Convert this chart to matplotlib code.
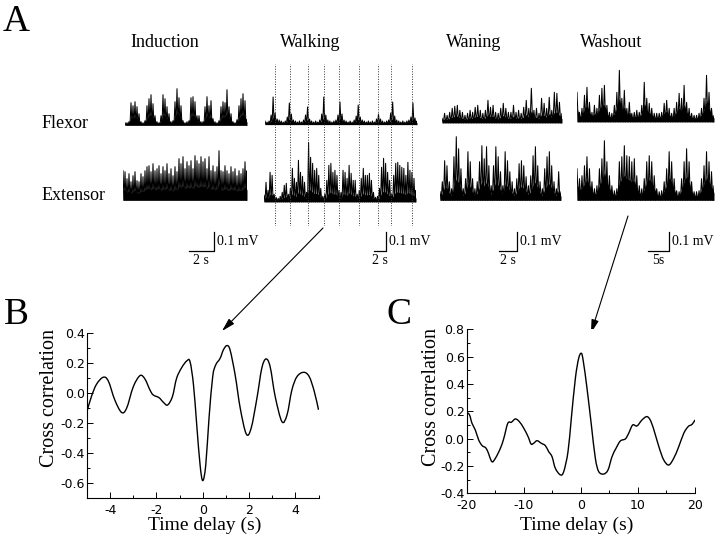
import numpy as np
import matplotlib
matplotlib.use("Agg")
import matplotlib.pyplot as plt
from matplotlib.path import Path
from matplotlib.patches import PathPatch

# ------------------------------------------------------------------ data
TITLES = ["Induction", "Walking", "Waning", "Washout"]
ROW_LABELS = ["Flexor", "Extensor"]

# EMG spike heights (pixels above the trace baseline)
IND_FLEX = [1, 1, 2, 21, 18, 22, 17, 10, 2, 1, 3, 18, 25, 29, 20, 8, 2, 1, 8, 29,
            25, 17, 10, 2, 3, 22, 35, 26, 18, 3, 1, 2, 3, 26, 27, 22, 8, 8, 2, 2,
            17, 27, 18, 23, 5, 2, 1, 3, 17, 22, 21, 34, 17, 10, 2, 1, 4, 18, 25, 30,
            23, 4]
IND_EXT = [28, 27, 20, 25, 17, 23, 27, 18, 17, 25, 22, 28, 32, 33, 27, 35, 28, 30, 33, 25,
           32, 28, 35, 25, 30, 23, 32, 27, 40, 35, 42, 30, 37, 33, 38, 30, 43, 38, 35, 42,
           37, 40, 30, 42, 28, 33, 27, 32, 48, 28, 27, 33, 28, 25, 32, 27, 30, 23, 28, 25,
           30, 37, 28]
WALK_FLEX = [2, 1, 2, 8, 26, 10, 4, 3, 2, 1, 2, 6, 20, 9, 3, 2, 1, 2, 1, 3,
             8, 16, 4, 2, 1, 2, 1, 3, 9, 26, 8, 3, 2, 1, 2, 3, 8, 21, 9, 3,
             2, 1, 2, 1, 3, 7, 18, 6, 3, 2, 1, 2, 1, 2, 1, 4, 9, 4, 2, 1,
             2, 3, 10, 21, 7, 3, 2, 1, 2, 1, 2, 3, 6, 20, 5, 2]
WALK_EXT = [5, 18, 10, 28, 25, 6, 3, 2, 4, 8, 15, 17, 6, 12, 32, 22, 18, 40, 28, 24,
            18, 8, 58, 43, 37, 30, 32, 25, 12, 4, 6, 20, 35, 37, 28, 30, 25, 10, 8, 30,
            28, 22, 35, 27, 20, 20, 6, 10, 22, 32, 25, 25, 27, 20, 8, 3, 4, 12, 33, 42,
            37, 28, 20, 6, 25, 37, 38, 35, 33, 32, 25, 38, 30, 28, 22, 10]
WANE_FLEX = [3, 8, 6, 9, 13, 15, 16, 11, 9, 6, 8, 11, 9, 14, 16, 11, 8, 11, 21, 14,
             16, 9, 8, 13, 18, 13, 9, 9, 16, 9, 11, 8, 14, 21, 13, 33, 11, 13, 8, 23,
             18, 13, 24, 11, 29, 28, 19, 8]
WANE_EXT = [7, 17, 38, 33, 17, 10, 42, 62, 50, 30, 10, 20, 47, 37, 20, 10, 17, 37, 53, 40,
            52, 33, 13, 33, 52, 42, 27, 13, 47, 38, 27, 17, 10, 20, 35, 38, 33, 22, 13, 23,
            43, 52, 33, 17, 10, 30, 42, 47, 33, 17, 10, 27, 7]
WASH_FLEX = [28, 8, 12, 25, 33, 18, 8, 15, 12, 25, 32, 35, 15, 8, 7, 15, 28, 50, 22, 30,
             12, 18, 7, 8, 10, 8, 15, 38, 22, 17, 12, 7, 7, 7, 8, 17, 20, 12, 7, 12,
             18, 27, 22, 35, 18, 12, 7, 5, 5, 7, 12, 22, 45, 28, 12, 5]
WASH_EXT = [30, 20, 23, 33, 42, 30, 17, 10, 13, 30, 40, 58, 37, 23, 13, 8, 10, 37, 42, 53,
            43, 42, 37, 40, 23, 13, 10, 20, 37, 43, 37, 23, 10, 7, 8, 17, 30, 47, 37, 20,
            8, 7, 20, 37, 50, 37, 17, 7, 7, 8, 20, 33, 47, 37, 27, 13]

FLEX_TRACES = [IND_FLEX, WALK_FLEX, WANE_FLEX, WASH_FLEX]
EXT_TRACES = [IND_EXT, WALK_EXT, WANE_EXT, WASH_EXT]

SCALE_SEC = [2, 2, 2, 5]
SCALE_SEC_LABELS = ["2 s", "2 s", "2 s", "5s"]
SCALE_MV = 0.1
SCALE_MV_LABEL = "0.1 mV"

# times of flexor bursts in the walking record (dotted lines), seconds
WALK_DOT_TIMES = [1.6, 4.2, 7.2, 9.8, 12.4, 15.6, 18.8, 21.0, 24.5]

# Panel B: walking cross correlation
B_T = [-5.0, -4.81, -4.59, -4.30, -4.08, -3.80, -3.51, -3.29, -3.0, -2.71,
       -2.50, -2.28, -2.14, -1.89, -1.70, -1.52, -1.31, -1.13, -0.91, -0.69,
       -0.55, -0.40, -0.26, -0.115, 0.0, 0.13, 0.27, 0.43, 0.56, 0.75,
       0.89, 1.04, 1.18, 1.40, 1.62, 1.88, 2.09, 2.34, 2.55, 2.73,
       2.91, 3.13, 3.42, 3.64, 3.85, 4.07, 4.36, 4.60, 4.82, 5.0]
B_Y = [-0.12, -0.022, 0.06, 0.107, 0.082, -0.044, -0.127, -0.10, 0.044, 0.118,
       0.096, 0.022, -0.011, -0.029, -0.06, -0.078, -0.022, 0.10, 0.171, 0.216,
       0.211, 0.056, -0.211, -0.478, -0.582, -0.478, -0.167, 0.111, 0.189, 0.233,
       0.289, 0.318, 0.289, 0.122, -0.10, -0.271, -0.233, -0.033, 0.167, 0.229,
       0.178, -0.022, -0.189, -0.144, 0.022, 0.111, 0.14, 0.111, 0.011, -0.11]

# Panel C: washout cross correlation
C_T = [-20.0, -19.5, -19.07, -18.49, -17.9, -17.3, -16.7, -16.3, -15.6, -14.98,
       -14.1, -13.5, -12.8, -12.17, -11.47, -10.77, -10.0, -9.25, -8.73, -8.27,
       -7.68, -6.93, -6.22, -5.64, -5.05, -4.47, -3.59, -3.0, -2.25, -1.67,
       -0.96, -0.38, 0.1, 0.44, 1.08, 1.84, 2.54, 3.13, 4.0, 4.76,
       5.46, 6.16, 6.92, 7.8, 8.38, 9.08, 9.84, 10.72, 11.6, 12.3,
       13.06, 13.76, 14.52, 15.4, 16.27, 17.15, 18.03, 18.8, 19.5, 20.0]
C_Y = [0.193, 0.173, 0.112, 0.063, -0.01, -0.051, -0.066, -0.095, -0.168, -0.144,
       -0.071, 0.002, 0.112, 0.12, 0.144, 0.124, 0.076, 0.015, -0.039, -0.034,
       -0.015, -0.034, -0.051, -0.095, -0.132, -0.217, -0.265, -0.241, -0.095, 0.149,
       0.441, 0.588, 0.624, 0.563, 0.368, 0.10, -0.144, -0.241, -0.259, -0.229,
       -0.132, -0.071, -0.017, -0.002, 0.039, 0.10, 0.093, 0.137, 0.161, 0.124,
       0.027, -0.071, -0.156, -0.193, -0.144, -0.059, 0.039, 0.088, 0.105, 0.137]

# ------------------------------------------------------------------ layout (pixels)
W, H, DPI = 720, 536, 100
MV_PER_PX = SCALE_MV / 19.5
FLEX_BOX = [(125, 247, 123.7), (265, 417, 123.0), (442, 562, 121.3), (577, 714, 120.3)]
EXT_BOX = [(123, 247, 198.7), (264, 416, 200.3), (440, 561, 198.7), (577, 714, 198.7)]
BAR_LEFT = [188.6, 374.0, 498.6, 647.5]
BAR_LEN_PX = [25.0, 12.0, 18.4, 21.5]
BAR_Y = 251.0
FLOOR = [0.32, 0.22, 0.32, 0.45]

plt.rcParams["axes.unicode_minus"] = False
SERIF = "Liberation Serif"
SANS = "DejaVu Sans"

fig = plt.figure(figsize=(W / DPI, H / DPI), dpi=DPI)


def px_axes(x0, y0, x1, y1, **kw):
    return fig.add_axes([x0 / W, 1 - y1 / H, (x1 - x0) / W, (y1 - y0) / H], **kw)


def ftext(x, y, s, **kw):
    fig.text(x / W, 1 - y / H, s, **kw)


def draw_trace(heights_px, box, sec_per_px, floor):
    x0, x1, base = box
    ax = px_axes(x0, base - 80, x1, base + 10)
    ax.axis("off")
    ax.patch.set_alpha(0)
    dur = (x1 - x0) * sec_per_px
    h = np.asarray(heights_px, float) * MV_PER_PX
    n = len(h)
    t = np.linspace(0, dur, n)
    dt = t[1] - t[0]
    lo = -1.6 * MV_PER_PX
    xs = np.empty(2 * n)
    ys = np.empty(2 * n)
    xs[0::2] = t
    xs[1::2] = np.minimum(t + dt / 2, dur)
    ys[0::2] = h
    ys[1::2] = lo
    ax.fill_between(t, lo, h * floor, color="black", lw=0)
    ax.plot(xs, ys, color="black", lw=0.75)
    ax.set_xlim(0, dur)
    ax.set_ylim(-10 * MV_PER_PX, 80 * MV_PER_PX)
    return ax, dur


walk_dur = None
for i in range(4):
    spp = SCALE_SEC[i] / BAR_LEN_PX[i]
    draw_trace(FLEX_TRACES[i], FLEX_BOX[i], spp, FLOOR[i])
    axe, dur = draw_trace(EXT_TRACES[i], EXT_BOX[i], spp, FLOOR[i])
    x0, x1, base = EXT_BOX[i]
    bx0 = (BAR_LEFT[i] - x0) * spp
    by = -(BAR_Y - base) * MV_PER_PX
    axe.plot([bx0, bx0 + SCALE_SEC[i], bx0 + SCALE_SEC[i]],
             [by, by, by + SCALE_MV], color="black", lw=0.9, clip_on=False)
    axe.annotate(SCALE_MV_LABEL, xy=(bx0 + SCALE_SEC[i], by + SCALE_MV / 2),
                 xytext=(2.5, 0), textcoords="offset points", ha="left", va="center",
                 fontsize=10, family=SERIF, annotation_clip=False)
    axe.annotate(SCALE_SEC_LABELS[i], xy=(bx0 + SCALE_SEC[i] / 2, by),
                 xytext=(0, -2.5), textcoords="offset points", ha="center", va="top",
                 fontsize=10, family=SERIF, annotation_clip=False)
    if i == 1:
        walk_dur = dur

# dotted lines across the walking record
axd = px_axes(FLEX_BOX[1][0], 64, FLEX_BOX[1][1], 226)
axd.axis("off")
axd.patch.set_alpha(0)
axd.set_xlim(0, walk_dur)
axd.set_ylim(0, 1)
axd.vlines(WALK_DOT_TIMES, 0, 1, colors="#333333", linestyles=(0, (1, 1.6)), lw=0.7)

# texts of panel A
ftext(3, 22, "A", fontsize=27, family=SERIF, va="center", ha="left")
for title, xc in zip(TITLES, [165, 310, 474, 611]):
    ftext(xc, 42, title, fontsize=13, family=SERIF, ha="center", va="center")
ftext(42, 124, ROW_LABELS[0], fontsize=13, family=SERIF, ha="left", va="center")
ftext(42, 195, ROW_LABELS[1], fontsize=13, family=SERIF, ha="left", va="center")
ftext(4, 315, "B", fontsize=27, family=SERIF, ha="left", va="center")
ftext(386, 315, "C", fontsize=27, family=SERIF, ha="left", va="center")

# arrows
axo = fig.add_axes([0, 0, 1, 1])
axo.axis("off")
axo.patch.set_alpha(0)
axo.set_xlim(0, W)
axo.set_ylim(H, 0)
for (xs_, ys_), (xe, ye) in [((323, 228), (222, 331)), ((628, 216), (591, 333))]:
    axo.annotate("", xy=(xe, ye), xytext=(xs_, ys_),
                 arrowprops=dict(arrowstyle="-|>,head_length=0.8,head_width=0.22",
                                 color="black", lw=0.8, shrinkA=0, shrinkB=0))


def smooth_path(xv, yv):
    """Cubic Bezier path passing through every read point."""
    p = np.column_stack([xv, yv]).astype(float)
    verts = [p[0]]
    codes = [Path.MOVETO]
    n = len(p)
    for k in range(n - 1):
        pm = p[k - 1] if k > 0 else p[k]
        pp = p[k + 2] if k + 2 < n else p[k + 1]
        c1 = p[k] + (p[k + 1] - pm) / 6.0
        c2 = p[k + 1] - (pp - p[k]) / 6.0
        verts += [c1, c2, p[k + 1]]
        codes += [Path.CURVE4] * 3
    return Path(verts, codes)


def style_corr(ax):
    for s in ("top", "right"):
        ax.spines[s].set_visible(False)
    for s in ("left", "bottom"):
        ax.spines[s].set_linewidth(0.8)
    ax.tick_params(which="both", direction="in", labelsize=9, width=0.7)
    ax.tick_params(which="major", length=4)
    ax.tick_params(axis="y", which="major", pad=1.5)
    ax.tick_params(axis="x", which="major", pad=4)
    ax.tick_params(which="minor", length=2.5)
    for lab in ax.get_xticklabels() + ax.get_yticklabels():
        lab.set_family(SANS)


# Panel B
axb = px_axes(87, 333.3, 318.5, 498.3)
axb.add_patch(PathPatch(smooth_path(B_T, B_Y), fill=False, color="black", lw=1.0))
axb.set_xlim(-5, 5)
axb.set_ylim(-0.7, 0.4)
axb.set_xticks([-4, -2, 0, 2, 4])
axb.set_xticks([-5, -3, -1, 1, 3, 5], minor=True)
axb.set_yticks([-0.6, -0.4, -0.2, 0.0, 0.2, 0.4])
axb.set_yticks([-0.7, -0.5, -0.3, -0.1, 0.1, 0.3], minor=True)
axb.set_yticklabels(["-0.6", "-0.4", "-0.2", "0.0", "0.2", "0.4"])
axb.set_xticklabels(["-4", "-2", "0", "2", "4"])
style_corr(axb)
ftext(50, 398, "Cross correlation", rotation=90, fontsize=14.5, family=SERIF,
      ha="center", va="center")
ftext(205, 525, "Time delay (s)", fontsize=14, family=SERIF, ha="center", va="center")

# Panel C
axc = px_axes(466.7, 329.3, 695, 493.3)
axc.add_patch(PathPatch(smooth_path(C_T, C_Y), fill=False, color="black", lw=1.0))
axc.set_xlim(-20, 20)
axc.set_ylim(-0.4, 0.8)
axc.set_xticks([-20, -10, 0, 10, 20])
axc.set_xticks([-15, -5, 5, 15], minor=True)
axc.set_yticks([-0.4, -0.2, 0.0, 0.2, 0.4, 0.6, 0.8])
axc.set_yticks([-0.3, -0.1, 0.1, 0.3, 0.5, 0.7], minor=True)
axc.set_yticklabels(["-0.4", "-0.2", "0.0", "0.2", "0.4", "0.6", "0.8"])
axc.set_xticklabels(["-20", "-10", "0", "10", "20"])
style_corr(axc)
ftext(431.7, 397.5, "Cross correlation", rotation=90, fontsize=14.5, family=SERIF,
      ha="center", va="center")
ftext(577, 525, "Time delay (s)", fontsize=14, family=SERIF, ha="center", va="center")

fig.savefig("out.png", dpi=DPI)
